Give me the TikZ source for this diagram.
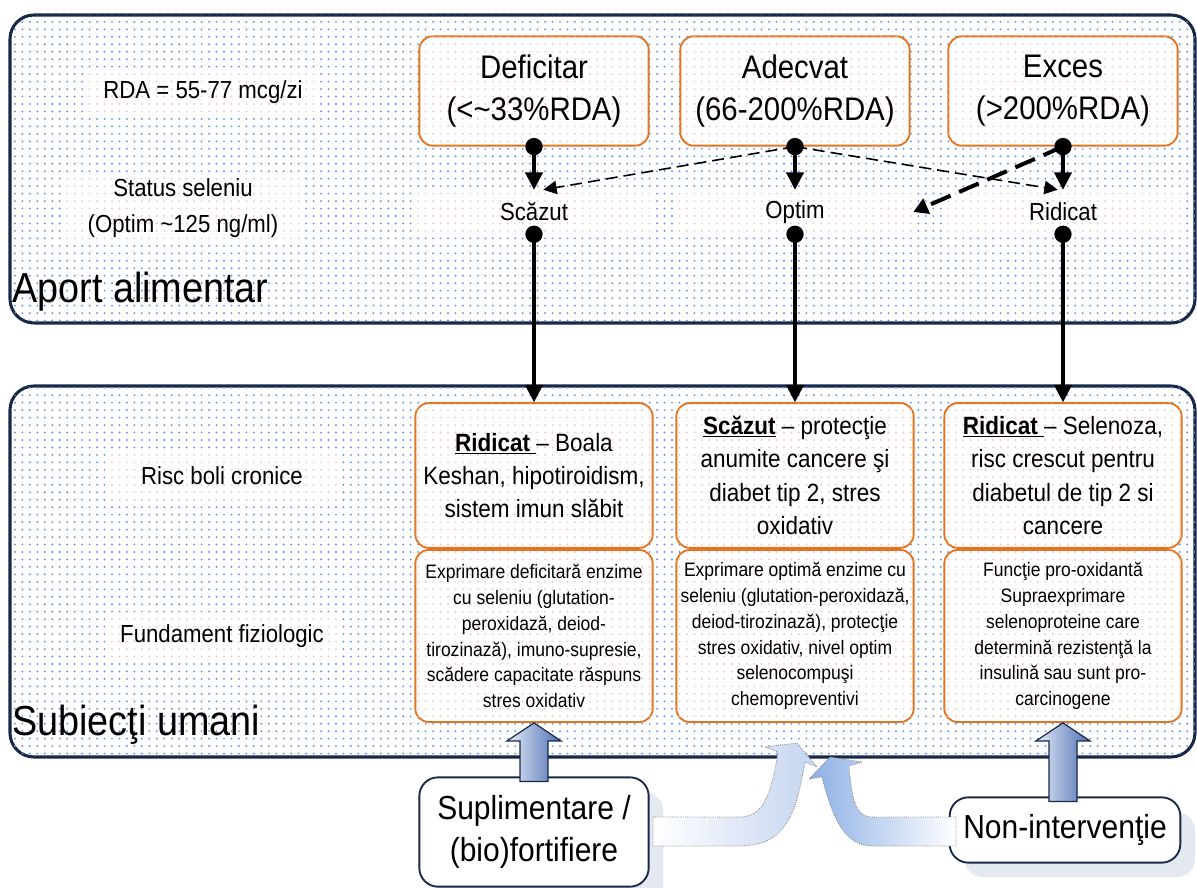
\documentclass[tikz,border=0pt]{standalone}
\usepackage{fontspec}
\setmainfont{Liberation Sans}[FakeStretch=0.9]
\usetikzlibrary{arrows.meta,positioning,calc,shadows,patterns.meta}

\definecolor{navy}{RGB}{24,41,72}
\definecolor{boxorange}{RGB}{226,117,34}
\definecolor{dotblue}{RGB}{105,148,226}
\definecolor{dotpink}{RGB}{244,200,200}
\definecolor{shadowgray}{RGB}{228,232,240}
\definecolor{arrowblue}{RGB}{78,112,178}
\definecolor{arrowlight}{RGB}{228,235,248}
\definecolor{curveblue}{RGB}{140,174,228}
\definecolor{curvelight}{RGB}{196,212,240}

\tikzdeclarepattern{
  name=seldots,
  type=uncolored,
  bounding box={(-2.8pt,-2.8pt) and (2.8pt,2.8pt)},
  tile size={(5.6pt,5.6pt)},
  code={\fill (0pt,0pt) circle (0.8pt);}
}

\begin{document}
\begin{tikzpicture}[x=0.75pt, y=-0.75pt,
    panel/.style={draw=navy, line width=2.3pt, rounded corners=18pt, fill=white,
      postaction={pattern=seldots, pattern color=dotblue}},
    pinkbg/.style={fill=white, postaction={pattern=seldots, pattern color=dotpink}},
    topbox/.style={pinkbg, draw=boxorange, line width=1.4pt, rounded corners=10pt,
      minimum width=172pt, minimum height=82pt, align=center, inner sep=2pt,
      font=\fontsize{24.5}{31.5}\selectfont},
    riscbox/.style={topbox, minimum width=178pt, minimum height=108.5pt,
      font=\fontsize{18.75}{25}\selectfont},
    fundbox/.style={topbox, minimum width=178pt, minimum height=129pt,
      font=\fontsize{14.6}{19.4}\selectfont},
    lbl/.style={pinkbg, align=center, minimum width=175pt, minimum height=36pt,
      font=\fontsize{18.5}{27}\selectfont},
    status/.style={lbl, minimum width=177pt, minimum height=33pt, inner sep=0pt},
    bigtitle/.style={anchor=west, inner sep=0pt, font=\fontsize{31.5}{36}\selectfont},
    actbox/.style={draw=navy, line width=1.4pt, fill=white, rounded corners=14pt,
      align=center, font=\fontsize{25}{32}\selectfont,
      drop shadow={shadow xshift=11pt, shadow yshift=-11pt, fill=shadowgray, opacity=1}},
    link/.style={line width=2.3pt, -{Triangle[width=13pt,length=13pt]}},
    dashlink/.style={line width=1.2pt, dash pattern=on 9pt off 4.5pt,
      -{Triangle[width=10pt,length=10pt]}},
    thickdash/.style={line width=3pt, dash pattern=on 16pt off 7pt,
      -{Triangle[width=12pt,length=11pt]}},
    blockup/.style={draw=navy, line width=0.9pt, left color=arrowlight, right color=arrowblue},
    curvearrow/.style={draw=gray, densely dotted, line width=0.6pt}
  ]
  \useasboundingbox (0,0) rectangle (1197,888);

  \draw[panel] (10,15) rectangle (1195,323);
  \draw[panel] (10,386) rectangle (1195,757);

  \node[bigtitle] (aport) at (12,292) {Aport alimentar};
  \node[bigtitle] (subiecti) at (12,725) {Subiecţi umani};

  \node[lbl] (rda) at (203,92) {RDA = 55-77 mcg/zi};
  \node[lbl] (statlbl) at (183,208) {Status seleniu\\(Optim \textasciitilde125 ng/ml)};
  \node[lbl] (risclbl) at (222,476) {Risc boli cronice};
  \node[lbl] (fundlbl) at (222,636) {Fundament fiziologic};

  \node[topbox] (defi) at (534,91) {Deficitar\\(<\textasciitilde33\%RDA)};
  \node[topbox] (adec) at (795,91) {Adecvat\\(66-200\%RDA)};
  \node[topbox] (exces) at (1063,91) {Exces\\(>200\%RDA)};

  \node[status] (scazut) at (534,212) {Scăzut};
  \node[status] (optim) at (795,212) {Optim};
  \node[status] (ridicat) at (1063,212) {Ridicat};

  \node[riscbox] (risc1) at (534,475.5) {\underline{\textbf{Ridicat} }– Boala\\Keshan, hipotiroidism,\\sistem imun slăbit};
  \node[riscbox] (risc2) at (795,475.5) {\underline{\textbf{Scăzut}} – protecţie\\anumite cancere şi\\diabet tip 2, stres\\oxidativ};
  \node[riscbox] (risc3) at (1063,475.5) {\underline{\textbf{Ridicat} }– Selenoza,\\risc crescut pentru\\diabetul de tip 2 si\\cancere};

  \node[fundbox] (fund1) at (534,636) {Exprimare deficitară enzime\\cu seleniu (glutation-\\peroxidază, deiod-\\tirozinază), imuno-supresie,\\scădere capacitate răspuns\\stres oxidativ};
  \node[fundbox] (fund2) at (795,636) {Exprimare optimă enzime cu\\seleniu (glutation-peroxidază,\\deiod-tirozinază), protecţie\\stres oxidativ, nivel optim\\selenocompuşi\\chemopreventivi};
  \node[fundbox] (fund3) at (1063,636) {Funcţie pro-oxidantă\\Supraexprimare\\selenoproteine care\\determină rezistenţă la\\insulină sau sunt pro-\\carcinogene};

  \node[actbox, minimum width=172pt, minimum height=82pt] (sup) at (534,832) {Suplimentare /\\(bio)fortifiere};
  \node[actbox, minimum width=173pt, minimum height=49pt] (non) at (1065,830) {Non-intervenţie};

  \foreach \from/\to in {defi/scazut, adec/optim, exces/ridicat} {
    \fill (\from.south) circle (6.5pt);
    \draw[link] (\from.south) -- (\to.north);
  }
  \foreach \from/\to in {scazut/risc1, optim/risc2, ridicat/risc3} {
    \fill (\from.south) circle (6.5pt);
    \draw[link] (\from.south) -- (\to.north);
  }
  \draw[dashlink] (adec.south) -- ([xshift=7pt]scazut.north);
  \draw[dashlink] (adec.south) -- ([xshift=-4pt]ridicat.north);
  \draw[thickdash] (exces.south) -- (optim.east);

  \shadedraw[blockup] ($(sup.north)+(-14,5)$) -- ($(fund1.south)+(-14,18)$)
    -- ($(fund1.south)+(-27,18)$) -- (fund1.south) -- ($(fund1.south)+(27,18)$)
    -- ($(fund1.south)+(14,18)$) -- ($(sup.north)+(14,5)$) -- cycle;
  \shadedraw[blockup] ($(fund3.south |- non.north)+(-14,5)$) -- ($(fund3.south)+(-14,18)$)
    -- ($(fund3.south)+(-27,18)$) -- (fund3.south) -- ($(fund3.south)+(27,18)$)
    -- ($(fund3.south)+(14,18)$) -- ($(fund3.south |- non.north)+(14,5)$) -- cycle;

  \shadedraw[curvearrow, left color=white, right color=curvelight]
    (653,817) -- (740,817) .. controls (765,817) and (772,790) .. (778,752)
    -- (765,747) -- (797,743) -- (817,767) -- (805,762)
    .. controls (796,815) and (785,846) .. (740,846) -- (653,846) -- cycle;
  \shadedraw[curvearrow, left color=curveblue, right color=white]
    (956,817) -- (873,817) .. controls (855,817) and (852,800) .. (849,766)
    -- (862,762) -- (830,757) -- (809,779) -- (822,777)
    .. controls (835,830) and (850,846) .. (873,846) -- (956,846) -- cycle;
\end{tikzpicture}
\end{document}
